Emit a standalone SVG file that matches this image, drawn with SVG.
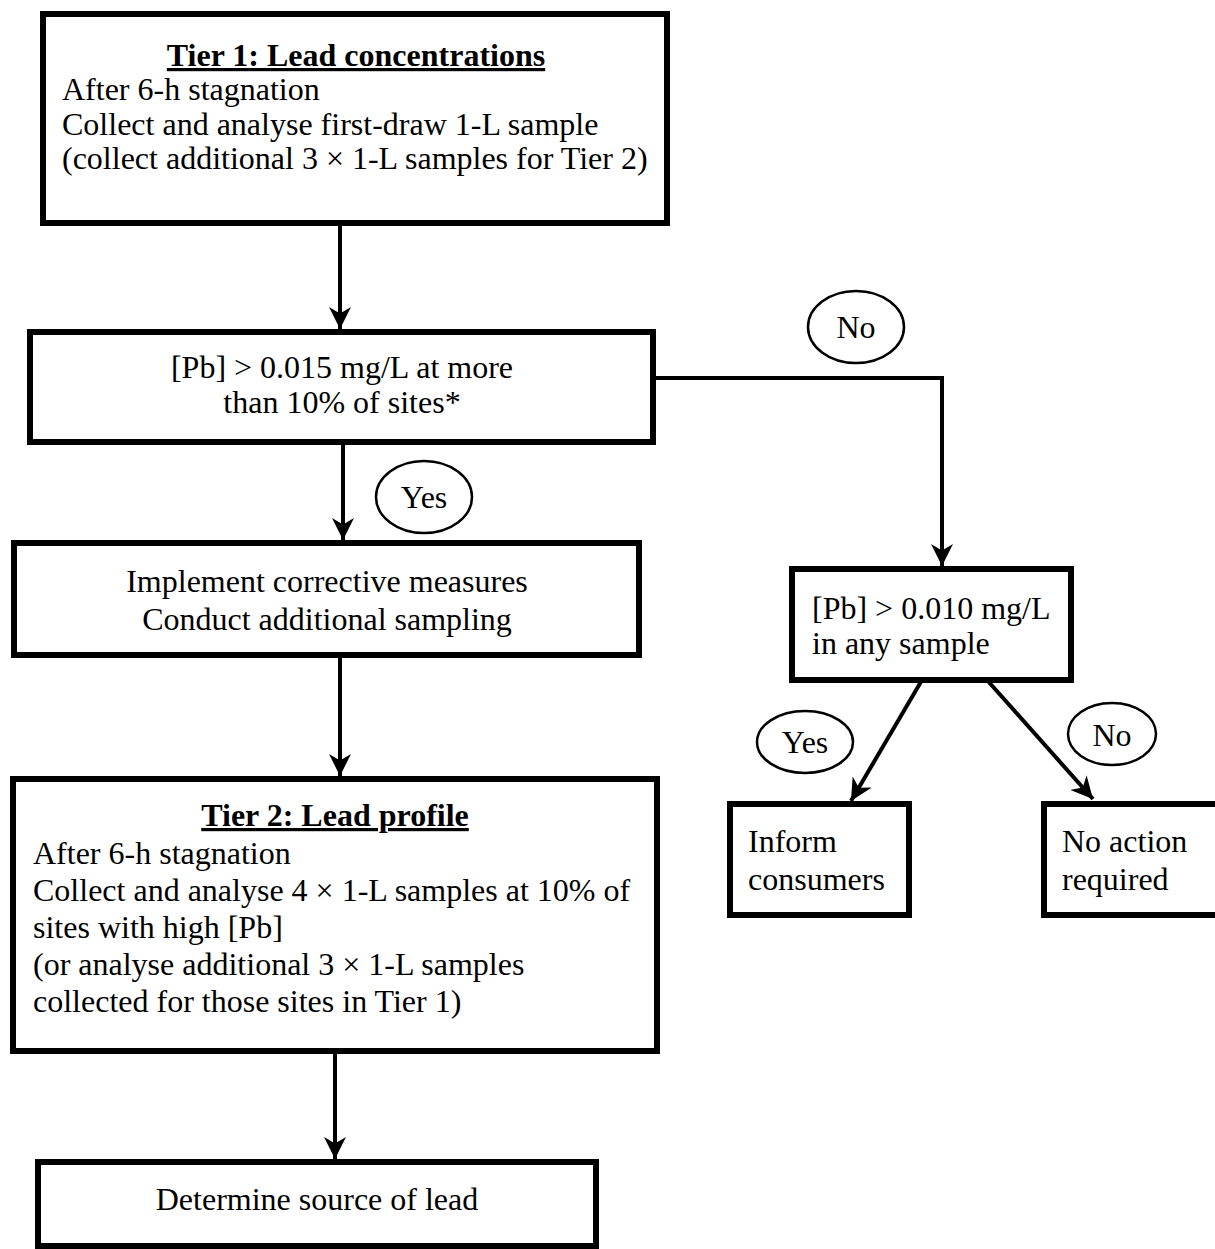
<svg xmlns="http://www.w3.org/2000/svg" width="1215" height="1249" viewBox="0 0 1215 1249">
<defs>
<marker id="ah" viewBox="0 0 10 10" refX="10" refY="5" markerWidth="5.5" markerHeight="5.5" markerUnits="strokeWidth" orient="auto">
<path d="M0,0 L10,5 L0,10 L3,5 Z" fill="#000"/>
</marker>
<style>
.box{fill:#fff;stroke:#000;stroke-width:6}
.lbl{fill:#fff;stroke:#000;stroke-width:2.5}
.c{fill:none;stroke:#000;stroke-width:4}
text{font-family:"Liberation Serif","Times New Roman",serif;font-size:32px;fill:#000}
.m{text-anchor:middle}
.b{font-weight:bold;text-decoration:underline}
</style>
</defs>
<rect width="1215" height="1249" fill="#fff"/>
<g id="connectors">
<path class="c" d="M340,223 L340,329" marker-end="url(#ah)"/>
<path class="c" d="M653,378 L942,378 L942,566" marker-end="url(#ah)"/>
<path class="c" d="M343,443 L343,540" marker-end="url(#ah)"/>
<path class="c" d="M340,655 L340,776" marker-end="url(#ah)"/>
<path class="c" d="M335,1051 L335,1159" marker-end="url(#ah)"/>
<path class="c" d="M922,680 L851,801" marker-end="url(#ah)"/>
<path class="c" d="M987,680 L1093,799" marker-end="url(#ah)"/>
</g>
<g id="tier1">
<rect class="box" x="43" y="14" width="624" height="209"/>
<text x="356" y="66" class="m b">Tier 1: Lead concentrations</text>
<text x="62" y="100">After 6-h stagnation</text>
<text x="62" y="135">Collect and analyse first-draw 1-L sample</text>
<text x="62" y="169">(collect additional 3 × 1-L samples for Tier 2)</text>
</g>
<g id="check1">
<rect class="box" x="30" y="332" width="623" height="110"/>
<text x="342" y="378" class="m">[Pb] &gt; 0.015 mg/L at more</text>
<text x="342" y="413" class="m">than 10% of sites*</text>
</g>
<g id="no1">
<ellipse class="lbl" cx="856" cy="327" rx="48" ry="36"/>
<text x="856" y="338" class="m">No</text>
</g>
<g id="yes1">
<ellipse class="lbl" cx="424" cy="497" rx="48" ry="36"/>
<text x="424" y="508" class="m">Yes</text>
</g>
<g id="corrective">
<rect class="box" x="14" y="543" width="625" height="112"/>
<text x="327" y="592" class="m">Implement corrective measures</text>
<text x="327" y="630" class="m">Conduct additional sampling</text>
</g>
<g id="check2">
<rect class="box" x="792" y="569" width="279" height="111"/>
<text x="812" y="619">[Pb] &gt; 0.010 mg/L</text>
<text x="812" y="654">in any sample</text>
</g>
<g id="yes2">
<ellipse class="lbl" cx="805" cy="742" rx="48" ry="31"/>
<text x="805" y="753" class="m">Yes</text>
</g>
<g id="no2">
<ellipse class="lbl" cx="1112" cy="734" rx="44" ry="31"/>
<text x="1112" y="746" class="m">No</text>
</g>
<g id="inform">
<rect class="box" x="730" y="804" width="179" height="111"/>
<text x="748" y="852">Inform</text>
<text x="748" y="890">consumers</text>
</g>
<g id="noaction">
<rect class="box" x="1044" y="804" width="180" height="111"/>
<text x="1062" y="852">No action</text>
<text x="1062" y="890">required</text>
</g>
<g id="tier2">
<rect class="box" x="13" y="779" width="644" height="272"/>
<text x="335" y="826" class="m b">Tier 2: Lead profile</text>
<text x="33" y="864">After 6-h stagnation</text>
<text x="33" y="901">Collect and analyse 4 × 1-L samples at 10% of</text>
<text x="33" y="938">sites with high [Pb]</text>
<text x="33" y="975">(or analyse additional 3 × 1-L samples</text>
<text x="33" y="1012">collected for those sites in Tier 1)</text>
</g>
<g id="source">
<rect class="box" x="38" y="1162" width="558" height="84"/>
<text x="317" y="1210" class="m">Determine source of lead</text>
</g>
</svg>
